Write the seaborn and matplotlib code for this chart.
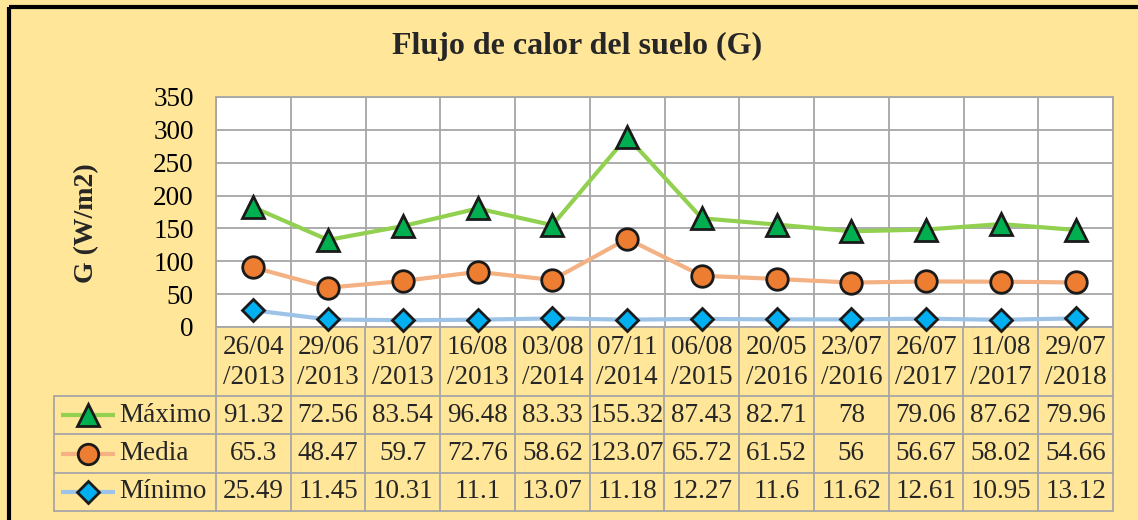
import numpy as np
import pandas as pd
import matplotlib
matplotlib.use("Agg")
import matplotlib.pyplot as plt
import seaborn as sns

fechas = ["26/04\n/2013", "29/06\n/2013", "31/07\n/2013", "16/08\n/2013", "03/08\n/2014", "07/11\n/2014",
          "06/08\n/2015", "20/05\n/2016", "23/07\n/2016", "26/07\n/2017", "11/08\n/2017", "29/07\n/2018"]
maximo = [91.32, 72.56, 83.54, 96.48, 83.33, 155.32, 87.43, 82.71, 78, 79.06, 87.62, 79.96]
media = [65.3, 48.47, 59.7, 72.76, 58.62, 123.07, 65.72, 61.52, 56, 56.67, 58.02, 54.66]
minimo = [25.49, 11.45, 10.31, 11.1, 13.07, 11.18, 12.27, 11.6, 11.62, 12.61, 10.95, 13.12]
series_names = ["Máximo", "Media", "Mínimo"]
table_labels = {"Máximo": ["91.32", "72.56", "83.54", "96.48", "83.33", "155.32", "87.43", "82.71", "78", "79.06", "87.62", "79.96"],
                "Media": ["65.3", "48.47", "59.7", "72.76", "58.62", "123.07", "65.72", "61.52", "56", "56.67", "58.02", "54.66"],
                "Mínimo": ["25.49", "11.45", "10.31", "11.1", "13.07", "11.18", "12.27", "11.6", "11.62", "12.61", "10.95", "13.12"]}

sns.set_theme(style="white")
plt.rcParams['font.family'] = ['Liberation Serif', 'DejaVu Serif']

W, H = 1138, 520
BG = "#FFE699"
GRID = "#A6A6A6"
fig = plt.figure(figsize=(W / 100, H / 100), dpi=100, facecolor=BG)

# stacked line chart (Excel stacked lines)
n = len(fechas)
x = np.arange(n) + 0.5
s_min = np.array(minimo)
s_med = s_min + np.array(media)
s_max = s_med + np.array(maximo)
df = pd.DataFrame({
    "x": np.concatenate([x, x, x]),
    "y": np.concatenate([s_max, s_med, s_min]),
    "serie": ["Máximo"] * n + ["Media"] * n + ["Mínimo"] * n,
})

L, R, T, B = 216, 1113, 97, 327
ax = fig.add_axes([L / W, 1 - B / H, (R - L) / W, (B - T) / H])
ax.set_facecolor("white")

styles = {
    "Máximo": dict(line="#92D050", face="#00B050", marker="^", ms=16),
    "Media": dict(line="#F4B183", face="#ED7D31", marker="o", ms=15.5),
    "Mínimo": dict(line="#9DC3E6", face="#00B0F0", marker="D", ms=11.5),
}
for name in ["Mínimo", "Media", "Máximo"]:
    st = styles[name]
    sns.lineplot(data=df[df.serie == name], x="x", y="y", ax=ax, color=st["line"], linewidth=3,
                 marker=st["marker"], markersize=st["ms"], markerfacecolor=st["face"],
                 markeredgecolor="#1a1a1a", markeredgewidth=2, legend=False, zorder=5, clip_on=False)

ax.set_xlim(0, n)
ax.set_ylim(0, 350)
ax.set_yticks(np.arange(0, 351, 50))
ax.set_xticks(np.arange(0, n + 1))
ax.grid(True, color=GRID, linewidth=1.3)
ax.set_axisbelow(True)
ax.set_xticklabels([])
ax.tick_params(axis="x", length=0)
ax.tick_params(axis="y", length=0, labelsize=19.5, pad=16, labelcolor="black")
for sp in ax.spines.values():
    sp.set_color(GRID)
    sp.set_linewidth(1.3)
ax.set_xlabel("")
ax.set_ylabel("")

# overlay in pixel coordinates for table, titles, border
ov = fig.add_axes([0, 0, 1, 1], facecolor="none")
ov.set_xlim(0, W)
ov.set_ylim(H, 0)
ov.axis("off")

ov.text(577, 46, "Flujo de calor del suelo (G)", ha="center", va="center", fontsize=23, fontweight="bold")
ov.text(87, 223, "G (W/m2)", ha="center", va="center", rotation=90, fontsize=20, fontweight="bold")

# border
ov.plot([9, W], [6.5, 6.5], color="black", lw=3, solid_capstyle="butt")
ov.plot([9, 9], [6.5, H], color="black", lw=3, solid_capstyle="butt")

# table
col_w = (R - L) / n
row_y = [327, 396, 434, 473, 511]
TL = 54
for i in range(n + 1):
    xx = L + i * col_w
    ov.plot([xx, xx], [row_y[0], row_y[-1]], color=GRID, lw=1.3)
ov.plot([TL, TL], [row_y[1], row_y[-1]], color=GRID, lw=1.3)
for j, yy in enumerate(row_y[1:]):
    ov.plot([TL, R], [yy, yy], color=GRID, lw=1.3)

for i, f in enumerate(fechas):
    cx = L + (i + 0.5) * col_w
    top, bot = f.split("\n")
    ov.text(cx, 348, top, ha="center", va="center", fontsize=19.5)
    ov.text(cx, 377, bot, ha="center", va="center", fontsize=19.5)

for r, name in enumerate(series_names):
    cy = (row_y[r + 1] + row_y[r + 2]) / 2
    st = styles[name]
    ov.plot([61, 115], [cy, cy], color=st["line"], lw=3, solid_capstyle="butt")
    ov.plot([88], [cy], marker=st["marker"], ms=st["ms"] * 0.95, mfc=st["face"], mec="#1a1a1a", mew=2, ls="none")
    ov.text(119, cy, name, ha="left", va="center", fontsize=19.5)
    for i, v in enumerate(table_labels[name]):
        cx = L + (i + 0.5) * col_w
        ov.text(cx, cy, v, ha="center", va="center", fontsize=19.5)

fig.savefig("out.png", dpi=100, facecolor=BG)
